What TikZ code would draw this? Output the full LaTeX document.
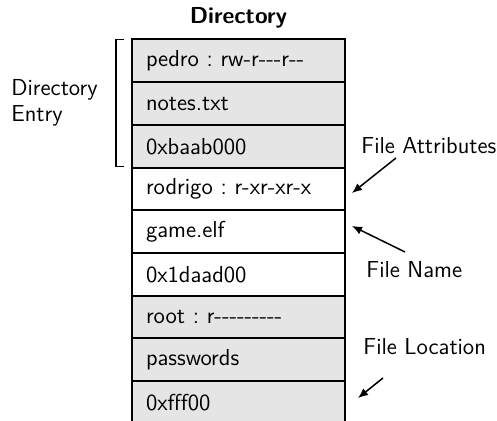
\documentclass[tikz,border=0pt]{standalone}
\usetikzlibrary{arrows.meta}
\renewcommand{\familydefault}{\sfdefault}
\frenchspacing
\begin{document}
\begin{tikzpicture}[x=0.5pt,y=-0.5pt,
  font=\fontsize{11.55}{13}\selectfont\sffamily,
  rowbox/.style={draw=black, line width=1pt, minimum width=106.5pt, minimum height=21.35pt,
    inner xsep=7pt, inner ysep=0pt, outer sep=0pt, text width=92.5pt, align=left, anchor=north west},
  grayrow/.style={rowbox, fill=black!10},
  whiterow/.style={rowbox, fill=white},
  lbl/.style={anchor=west, inner sep=0pt, align=left},
  arr/.style={-{Latex[length=5pt,width=4.2pt]}, line width=0.75pt}
]
\useasboundingbox (0,0) rectangle (497,421);
\node[font=\fontsize{11.55}{13}\selectfont\sffamily\bfseries] (title) at (238.5,18) {Directory};
\node[grayrow]  (r1) at (132,39.5)  {pedro : rw-{}r-{}-{}-{}r-{}-};
\node[grayrow]  (r2) at (r1.south west) {notes.txt};
\node[grayrow]  (r3) at (r2.south west) {0xbaab000};
\node[whiterow] (r4) at (r3.south west) {rodrigo : r-xr-xr-x};
\node[whiterow] (r5) at (r4.south west) {game.elf};
\node[whiterow] (r6) at (r5.south west) {0x1daad00};
\node[grayrow]  (r7) at (r6.south west) {root : r-{}-{}-{}-{}-{}-{}-{}-{}-};
\node[grayrow]  (r8) at (r7.south west) {passwords};
\node[grayrow]  (r9) at (r8.south west) {0xfff00};
% bracket
\draw[line width=0.8pt] (124,39.5) -- (116,39.5) -- (116,166.5) -- (124,166.5);
\node[lbl] (entry) at (11,103) {Directory\\Entry};
\node[lbl] (attr) at (361,146) {File Attributes};
\node[lbl] (fname) at (366,270) {File Name};
\node[lbl] (floc) at (363,347) {File Location};
\coordinate (a1s) at (396,158);
\coordinate (a1e) at (352,193);
\coordinate (a2s) at (405,252);
\coordinate (a2e) at (352,226);
\coordinate (a3s) at (383,378);
\coordinate (a3e) at (358,398);
\draw[arr] (a1s) -- (a1e);
\draw[arr] (a2s) -- (a2e);
\draw[arr] (a3s) -- (a3e);
\end{tikzpicture}
\end{document}
